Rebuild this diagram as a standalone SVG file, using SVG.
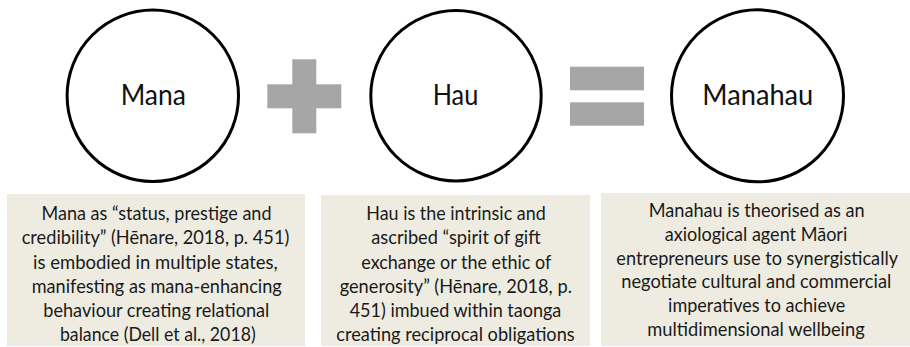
<svg xmlns="http://www.w3.org/2000/svg" width="910" height="347" viewBox="0 0 910 347">
  <style>
    .circ { fill: #ffffff; stroke: #000000; stroke-width: 3; }
    .op { fill: #A6A6A6; }
    .box { fill: #EEECE1; }
    .lbl { font-family: Lato, "Open Sans", "Liberation Sans", sans-serif; font-size: 28px; fill: #111111; text-anchor: middle; }
    .txt { font-family: Lato, "Open Sans", "Liberation Sans", sans-serif; font-size: 19px; fill: #1a1a1a; text-anchor: middle; }
  </style>
  <rect width="910" height="347" fill="#ffffff"/>

  <g id="node-mana">
    <circle class="circ" cx="152.8" cy="95.8" r="85.7"/>
    <text class="lbl" x="153.3" y="105.3" textLength="65.3" lengthAdjust="spacingAndGlyphs">Mana</text>
  </g>
  <g id="node-hau">
    <circle class="circ" cx="456" cy="95.8" r="85.2"/>
    <text class="lbl" x="455.5" y="105.3" textLength="45.6" lengthAdjust="spacingAndGlyphs">Hau</text>
  </g>
  <g id="node-manahau">
    <circle class="circ" cx="757.5" cy="95.8" r="86"/>
    <text class="lbl" x="757.8" y="105.3" textLength="111" lengthAdjust="spacingAndGlyphs">Manahau</text>
  </g>

  <g id="operators">
    <g id="plus">
      <rect class="op" x="267.3" y="84.3" width="74" height="24"/>
      <rect class="op" x="292.3" y="59.3" width="24" height="74"/>
    </g>
    <g id="equals">
      <rect class="op" x="570" y="66.7" width="74" height="23.6"/>
      <rect class="op" x="570" y="102.3" width="74" height="23.4"/>
    </g>
  </g>

  <g id="box-mana">
    <rect class="box" x="7" y="194" width="298" height="152"/>
    <text class="txt" x="156.5" y="220.3" textLength="230" lengthAdjust="spacingAndGlyphs">Mana as “status, prestige and</text>
    <text class="txt" x="155.5" y="244.4" textLength="267.6" lengthAdjust="spacingAndGlyphs">credibility” (Hēnare, 2018, p. 451)</text>
    <text class="txt" x="155.4" y="268.5" textLength="244.7" lengthAdjust="spacingAndGlyphs">is embodied in multiple states,</text>
    <text class="txt" x="156.7" y="292.6" textLength="250" lengthAdjust="spacingAndGlyphs">manifesting as mana-enhancing</text>
    <text class="txt" x="156.3" y="316.7" textLength="226" lengthAdjust="spacingAndGlyphs">behaviour creating relational</text>
    <text class="txt" x="157.8" y="340.8" textLength="195.7" lengthAdjust="spacingAndGlyphs">balance (Dell et al., 2018)</text>
  </g>

  <g id="box-hau">
    <rect class="box" x="321" y="195" width="269" height="151"/>
    <text class="txt" x="456" y="220.3" textLength="179.4" lengthAdjust="spacingAndGlyphs">Hau is the intrinsic and</text>
    <text class="txt" x="456" y="244.4" textLength="169.4" lengthAdjust="spacingAndGlyphs">ascribed “spirit of gift</text>
    <text class="txt" x="456.3" y="268.5" textLength="190" lengthAdjust="spacingAndGlyphs">exchange or the ethic of</text>
    <text class="txt" x="455.8" y="292.6" textLength="232.3" lengthAdjust="spacingAndGlyphs">generosity” (Hēnare, 2018, p.</text>
    <text class="txt" x="455.5" y="316.7" textLength="211.6" lengthAdjust="spacingAndGlyphs">451) imbued within taonga</text>
    <text class="txt" x="455.5" y="340.8" textLength="238.4" lengthAdjust="spacingAndGlyphs">creating reciprocal obligations</text>
  </g>

  <g id="box-manahau">
    <rect class="box" x="601" y="193" width="309" height="153"/>
    <text class="txt" x="756.7" y="217.3" textLength="216" lengthAdjust="spacingAndGlyphs">Manahau is theorised as an</text>
    <text class="txt" x="756" y="241" textLength="182.6" lengthAdjust="spacingAndGlyphs">axiological agent Māori</text>
    <text class="txt" x="757.2" y="264.7" textLength="281.7" lengthAdjust="spacingAndGlyphs">entrepreneurs use to synergistically</text>
    <text class="txt" x="756.3" y="288.4" textLength="270" lengthAdjust="spacingAndGlyphs">negotiate cultural and commercial</text>
    <text class="txt" x="756.7" y="312.1" textLength="177.3" lengthAdjust="spacingAndGlyphs">imperatives to achieve</text>
    <text class="txt" x="756" y="335.8" textLength="217.4" lengthAdjust="spacingAndGlyphs">multidimensional wellbeing</text>
  </g>
</svg>
